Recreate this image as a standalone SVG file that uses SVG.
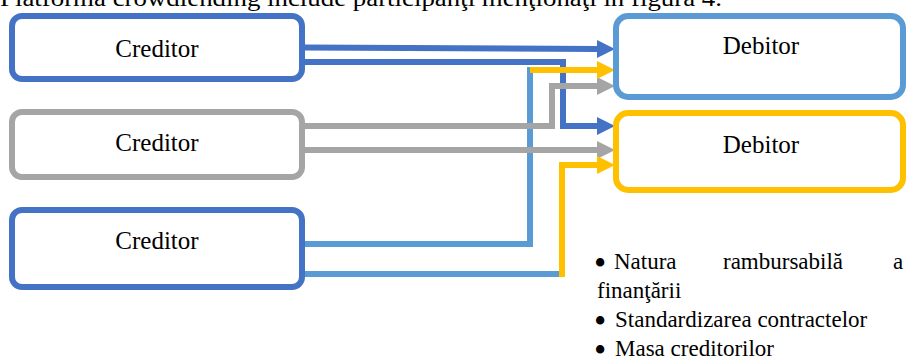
<svg xmlns="http://www.w3.org/2000/svg" width="907" height="361" viewBox="0 0 907 361">
<style>
  text { font-family: "Liberation Serif", "Times New Roman", serif; fill: #000; }
  .lbl { font-size: 25px; text-anchor: middle; }
  .body { font-size: 23px; }
  .bul { font-size: 35px; }
  .box { fill: #fff; stroke-width: 6; }
  .c-dblue { stroke: #4472C4; }
  .c-lblue { stroke: #5B9BD5; }
  .c-gray { stroke: #A5A5A5; }
  .c-yel { stroke: #FFC000; }
  .ln { fill: none; stroke-width: 6; stroke-linejoin: miter; }
</style>
<defs>
  <marker id="a-dblue" markerUnits="userSpaceOnUse" viewBox="0 0 18 18" refX="0" refY="9" markerWidth="18" markerHeight="18" orient="auto"><path d="M0,0 L18,9 L0,18 Z" fill="#4472C4"/></marker>
  <marker id="a-gray" markerUnits="userSpaceOnUse" viewBox="0 0 18 18" refX="0" refY="9" markerWidth="18" markerHeight="18" orient="auto"><path d="M0,0 L18,9 L0,18 Z" fill="#A5A5A5"/></marker>
  <marker id="a-yel" markerUnits="userSpaceOnUse" viewBox="0 0 18 18" refX="0" refY="9" markerWidth="18" markerHeight="18" orient="auto"><path d="M0,0 L18,9 L0,18 Z" fill="#FFC000"/></marker>
</defs>
<rect width="907" height="361" fill="#fff"/>
<text class="body" x="0" y="6" font-size="24" textLength="722" lengthAdjust="spacingAndGlyphs">Platforma crowdlending include participanţi menţionaţi în figura 4.</text>

<g id="connectors">
  <path class="ln c-dblue" d="M304,47.5 L597,49" marker-end="url(#a-dblue)"/>
  <path class="ln c-dblue" d="M304,62 L563,62 L563,126 L597,126" marker-end="url(#a-dblue)"/>
  <path class="ln c-lblue" d="M304,244 L530,244 L530,67"/>
  <path class="ln c-lblue" d="M304,274 L562,274"/>
  <path class="ln c-gray" d="M304,126 L552,126 L552,86 L597,86" marker-end="url(#a-gray)"/>
  <path class="ln c-gray" d="M304,150 L597,150" marker-end="url(#a-gray)"/>
  <path class="ln c-yel" d="M530,70 L597,70" marker-end="url(#a-yel)"/>
  <path class="ln c-yel" d="M562,277 L562,165 L597,165" marker-end="url(#a-yel)"/>
</g>

<g id="creditor1"><rect class="box c-dblue" x="12" y="16" width="290" height="63" rx="10"/><text class="lbl" x="157" y="57">Creditor</text></g>
<g id="creditor2"><rect class="box c-gray" x="12" y="112" width="290" height="65" rx="10"/><text class="lbl" x="157" y="151">Creditor</text></g>
<g id="creditor3"><rect class="box c-dblue" x="12" y="210" width="290" height="77" rx="10"/><text class="lbl" x="157" y="249">Creditor</text></g>
<g id="debitor1"><rect class="box c-lblue" x="616" y="16" width="287" height="81" rx="12"/><text class="lbl" x="761" y="54">Debitor</text></g>
<g id="debitor2"><rect class="box c-yel" x="616" y="113" width="287" height="77" rx="12"/><text class="lbl" x="761" y="153">Debitor</text></g>

<g id="notes">
  <text class="body"><tspan class="bul" x="594" y="275">•</tspan><tspan x="614" y="269">Natura</tspan><tspan x="723" y="269">rambursabilă</tspan><tspan x="893" y="269">a</tspan></text>
  <text class="body" x="597" y="298">finanţării</text>
  <text class="body"><tspan class="bul" x="594" y="333">•</tspan><tspan x="615" y="327">Standardizarea contractelor</tspan></text>
  <text class="body"><tspan class="bul" x="594" y="362">•</tspan><tspan x="615" y="356">Masa creditorilor</tspan></text>
</g>
</svg>
